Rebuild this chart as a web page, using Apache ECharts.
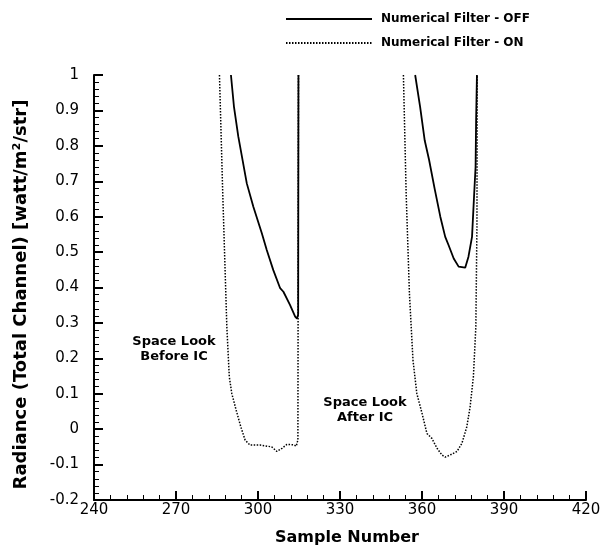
<!DOCTYPE html>
<html><head><meta charset="utf-8">
<script src="https://cdn.jsdelivr.net/npm/echarts@6/dist/echarts.min.js"></script>
<style>html,body{margin:0;padding:0;background:#fff}#c{width:612px;height:554px}</style>
</head><body><div id="c"></div>
<script>
// Numerical Filter - OFF (solid). null separates the two space looks.
const offX = [290.1, 291.2, 292.8, 295.9, 298.3, 301.4, 303.2, 305.6, 308.1, 309.3, 311.7, 313.6, 314.3, 314.7, 314.8, null,
              357.5, 359.3, 361.0, 362.6, 364.6, 366.7, 368.5, 369.7, 371.6, 373.4, 375.8, 377.0, 378.3, 379.1, 379.6, 379.8, 380.1];
const offY = [1.0, 0.911, 0.826, 0.694, 0.628, 0.553, 0.506, 0.449, 0.398, 0.388, 0.351, 0.318, 0.312, 0.325, 1.0, null,
              1.0, 0.911, 0.815, 0.760, 0.680, 0.600, 0.543, 0.520, 0.482, 0.459, 0.456, 0.487, 0.543, 0.666, 0.74, 0.873, 1.0];
// Numerical Filter - ON (dotted)
const onX = [285.9, 287.1, 288.6, 289.5, 290.4, 292.0, 293.7, 295.3, 297.1, 300.8, 302.6, 305.0, 306.9, 308.8, 310.6, 313.0, 314.0, 314.6, 314.8, null,
             353.2, 354.2, 355.4, 356.7, 358.1, 360.0, 361.8, 363.6, 365.5, 367.3, 368.5, 370.3, 372.8, 374.6, 376.4, 377.6, 378.8, 379.7, 380.1, 380.2];
const onY = [1.0, 0.666, 0.289, 0.148, 0.101, 0.054, 0.007, -0.031, -0.045, -0.045, -0.047, -0.05, -0.063, -0.054, -0.043, -0.044, -0.048, -0.03, 1.0, null,
             1.0, 0.666, 0.383, 0.195, 0.101, 0.045, -0.012, -0.026, -0.054, -0.073, -0.079, -0.073, -0.063, -0.040, 0.007, 0.063, 0.148, 0.289, 0.572, 1.0];
const seriesNames = ['Numerical Filter - OFF', 'Numerical Filter - ON'];
const xTicks = [240, 270, 300, 330, 360, 390, 420];

function zip(xs, ys) { return xs.map((x, i) => x === null ? [null, null] : [x, ys[i]]); }

const font = '"DejaVu Sans", Verdana, sans-serif';
const chart = echarts.init(document.getElementById('c'), null, {renderer: 'canvas'});
chart.setOption({
  animation: false,
  backgroundColor: '#fff',
  textStyle: {fontFamily: font, color: '#000'},
  grid: {left: 94, right: 26, top: 75, bottom: 54, containLabel: false},
  legend: {
    orient: 'vertical', left: 280, top: 8, itemWidth: 86, itemHeight: 12, itemGap: 12,
    itemStyle: {opacity: 0},
    textStyle: {fontFamily: font, fontWeight: 'bold', fontSize: 12, color: '#000', padding: [0, 0, 0, 4]},
    data: seriesNames
  },
  xAxis: {
    type: 'value', min: xTicks[0], max: xTicks[xTicks.length - 1], interval: 30,
    name: 'Sample Number', nameLocation: 'middle', nameGap: 30,
    nameTextStyle: {fontFamily: font, fontWeight: 'bold', fontSize: 16, color: '#000', padding: [0, 0, 0, 14]},
    axisLine: {show: true, onZero: false, lineStyle: {color: '#000', width: 2}},
    axisTick: {show: true, inside: true, length: 9, lineStyle: {color: '#000', width: 2}},
    minorTick: {show: true, splitNumber: 5, length: 5, lineStyle: {color: '#000', width: 1}},
    axisLabel: {fontFamily: font, fontSize: 15, color: '#000', margin: 3},
    splitLine: {show: false}
  },
  yAxis: {
    type: 'value', min: -0.2, max: 1, interval: 0.1,
    name: 'Radiance (Total Channel) [watt/m\u00B2/str]', nameLocation: 'middle', nameGap: 64,
    nameTextStyle: {fontFamily: font, fontWeight: 'bold', fontSize: 18, color: '#000', padding: [0, 0, 0, -14]},
    axisLine: {show: true, onZero: false, lineStyle: {color: '#000', width: 2}},
    axisTick: {show: true, inside: true, length: 9, lineStyle: {color: '#000', width: 2}},
    minorTick: {show: true, splitNumber: 5, length: 5, lineStyle: {color: '#000', width: 1}},
    axisLabel: {fontFamily: font, fontSize: 15, color: '#000', margin: 15,
      formatter: v => String(+v.toFixed(1))},
    splitLine: {show: false}
  },
  graphic: [
    {type: 'text', left: 174 - 45, top: 334, style: {text: 'Space Look\nBefore IC', font: 'bold 13px ' + font, fill: '#000', textAlign: 'center', lineHeight: 15, width: 90}},
    {type: 'text', left: 365 - 45, top: 395, style: {text: 'Space Look\nAfter IC', font: 'bold 13px ' + font, fill: '#000', textAlign: 'center', lineHeight: 15, width: 90}}
  ],
  series: [
    {name: seriesNames[0], type: 'line', data: zip(offX, offY), showSymbol: false, symbol: 'none', connectNulls: false,
     lineStyle: {color: '#000', width: 1.8, type: 'solid'}, itemStyle: {color: '#000'}},
    {name: seriesNames[1], type: 'line', data: zip(onX, onY), showSymbol: false, symbol: 'none', connectNulls: false,
     lineStyle: {color: '#000', width: 1.5, type: [1.5, 1.5]}, itemStyle: {color: '#000'}}
  ]
});
</script></body></html>
